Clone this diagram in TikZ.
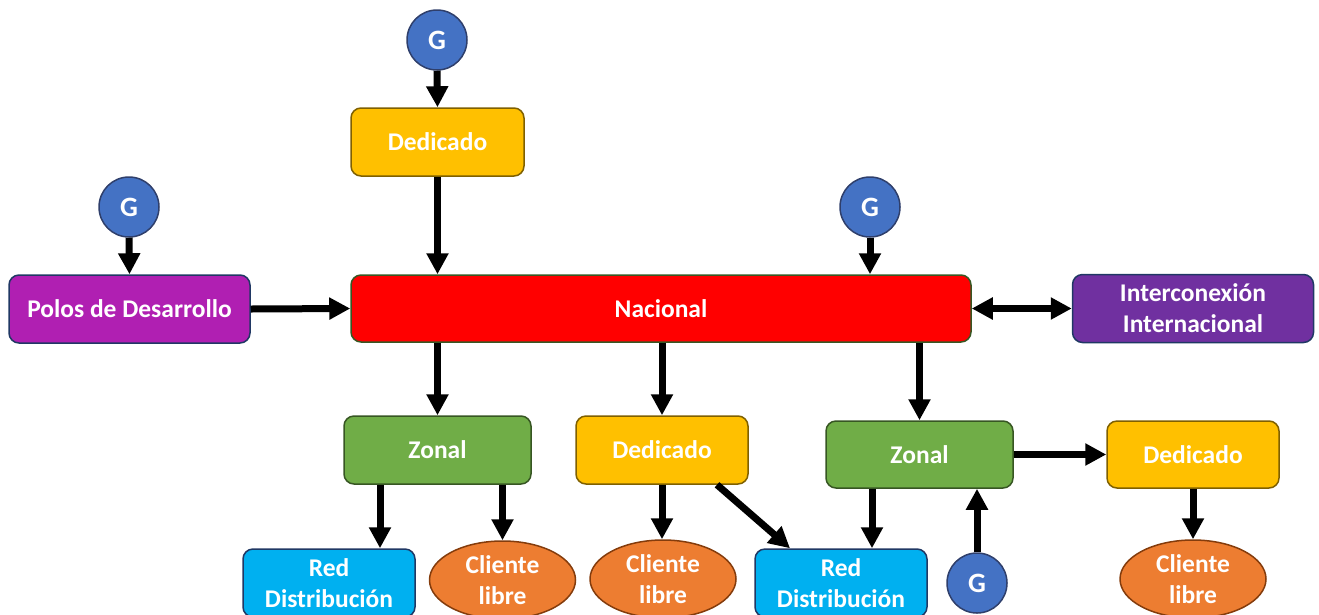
\documentclass[tikz,border=0pt]{standalone}
\usepackage{fontspec}
\setmainfont{Carlito}
\usetikzlibrary{arrows.meta,shapes.geometric}

\definecolor{genblue}{HTML}{4472C4}
\definecolor{genedge}{HTML}{2F3F6B}
\definecolor{dedfill}{HTML}{FFC000}
\definecolor{dededge}{HTML}{7F6000}
\definecolor{polfill}{HTML}{B01FB2}
\definecolor{navyedge}{HTML}{203864}
\definecolor{natfill}{HTML}{FF0000}
\definecolor{natedge}{HTML}{385723}
\definecolor{intfill}{HTML}{7030A0}
\definecolor{zonfill}{HTML}{70AD47}
\definecolor{zonedge}{HTML}{375623}
\definecolor{redfill}{HTML}{00B0F0}
\definecolor{clifill}{HTML}{ED7D31}
\definecolor{cliedge}{HTML}{843C0C}

\tikzset{
  lbl/.style={text=white, font=\fontsize{25.5}{31}\selectfont\bfseries, align=center, inner sep=0pt, line width=1.5pt},
  boxnode/.style={lbl, rectangle, rounded corners=10pt},
  gen/.style={lbl, circle, minimum size=60pt, fill=genblue, draw=genedge, font=\fontsize{28}{32}\selectfont\bfseries},
  dedbox/.style={boxnode, minimum width=173pt, minimum height=68pt, fill=dedfill, draw=dededge},
  zonbox/.style={boxnode, minimum width=187pt, minimum height=68pt, fill=zonfill, draw=zonedge},
  redbox/.style={boxnode, minimum width=172pt, minimum height=68pt, fill=redfill, draw=navyedge},
  clinode/.style={lbl, ellipse, minimum width=146pt, minimum height=78pt, fill=clifill, draw=cliedge},
  flow/.style={line width=7pt, -{Triangle[length=21pt,width=21pt]}},
  flowboth/.style={line width=7pt, {Triangle[length=21pt,width=21pt]}-{Triangle[length=21pt,width=21pt]}}
}

\begin{document}
\begin{tikzpicture}[x=1pt,y=-1pt]
\useasboundingbox (0,0) rectangle (1319,614);

% generators
\node[gen] (gA) at (437,40) {G};
\node[gen] (gB) at (129,207) {G};
\node[gen] (gC) at (870,207) {G};

% upper row
\node[dedbox] (dedTop) at (437.5,142) {Dedicado};
\node[boxnode, minimum width=241pt, minimum height=68pt, fill=polfill, draw=navyedge] (polos) at (129.5,309) {Polos de Desarrollo};
\node[boxnode, minimum width=620pt, minimum height=67pt, fill=natfill, draw=natedge] (nacional) at (661,308.5) {Nacional};
\node[boxnode, minimum width=241pt, minimum height=68pt, fill=intfill, draw=navyedge] (inter) at (1193,308.5) {Interconexión\\Internacional};

% middle row
\node[zonbox] (zonal1) at (437.5,450) {Zonal};
\node[dedbox, minimum width=172pt] (ded2) at (662,450) {Dedicado};
\node[zonbox, minimum height=67pt] (zonal2) at (919.5,454.5) {Zonal};
\node[dedbox, minimum width=172pt, minimum height=67pt] (ded3) at (1193,454.5) {Dedicado};

% bottom row
\node[redbox] (red1) at (329,583) {Red\\Distribución};
\node[clinode] (cli1) at (502.5,580) {Cliente\\libre};
\node[clinode] (cli2) at (663,579) {Cliente\\libre};
\node[redbox] (red2) at (841,583) {Red\\Distribución};
\node[gen] (gD) at (977,583) {G};
\node[clinode] (cli3) at (1193,579) {Cliente\\libre};

% connections
\draw[flow] (gA.south) -- (dedTop.north);
\draw[flow] (dedTop.south) -- (dedTop.south |- nacional.north);
\draw[flow] (gB.south) -- (polos.north);
\draw[flow] (polos.east) -- (nacional.west);
\draw[flow] (gC.south) -- (gC.south |- nacional.north);
\draw[flowboth] (nacional.east) -- (inter.west);
\draw[flow] (zonal1.north |- nacional.south) -- (zonal1.north);
\draw[flow] (ded2.north |- nacional.south) -- (ded2.north);
\draw[flow] (zonal2.north |- nacional.south) -- (zonal2.north);
\draw[flow] ([xshift=-57.5pt]zonal1.south) -- ([xshift=-57.5pt]zonal1.south |- red1.north);
\draw[flow] (cli1.north |- zonal1.south) -- (cli1.north);
\draw[flow] (ded2.south) -- (ded2.south |- cli2.north);
\draw[flow] ([xshift=55pt]ded2.south) -- ([xshift=-51pt]red2.north);
\draw[flow] ([xshift=-47.5pt]zonal2.south) -- ([xshift=-47.5pt]zonal2.south |- red2.north);
\draw[flow] (gD.north) -- (gD.north |- zonal2.south);
\draw[flow] (zonal2.east) -- (ded3.west);
\draw[flow] (ded3.south) -- (cli3.north);
\end{tikzpicture}
\end{document}
